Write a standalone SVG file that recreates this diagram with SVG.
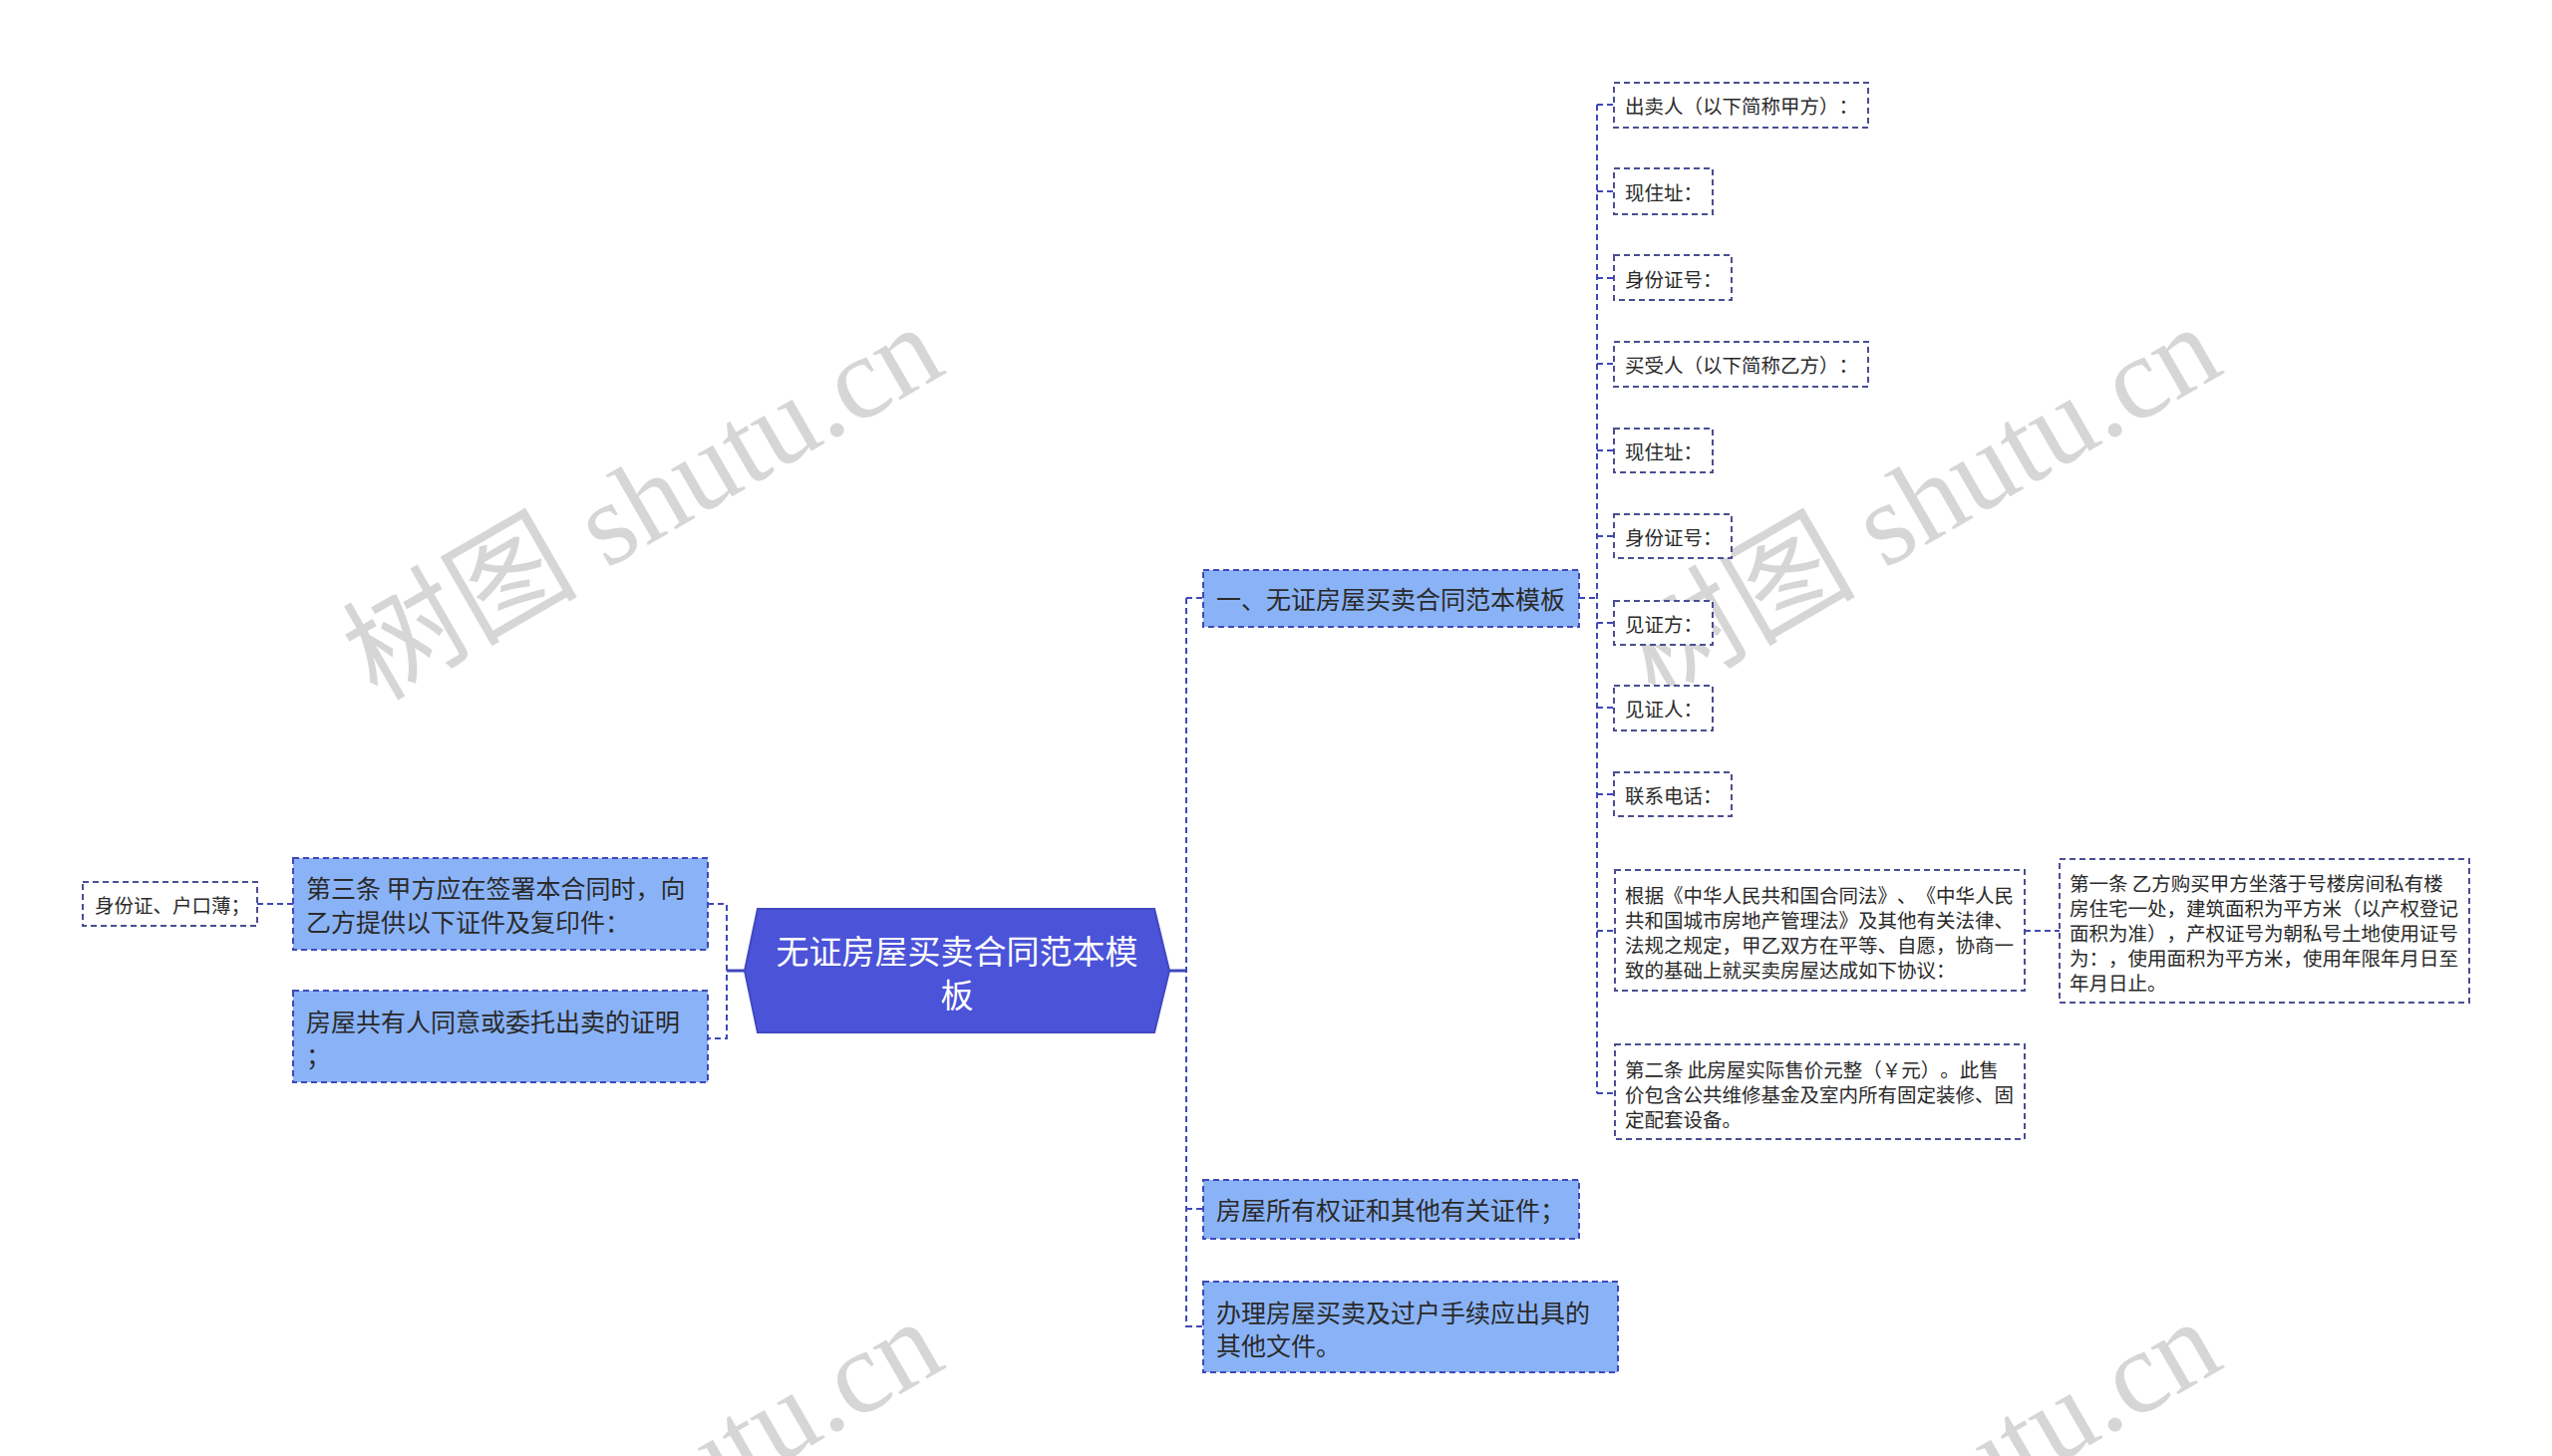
<svg xmlns="http://www.w3.org/2000/svg" width="2560" height="1461" viewBox="0 0 2560 1461">
<style>
.wm{font-family:"Liberation Serif","Noto Sans CJK SC",serif;font-size:118px;fill:#d6d6d6}
.t{font-family:"Noto Sans CJK SC","Noto Sans CJK JP",sans-serif;fill:#2a2a2a;dominant-baseline:central;text-spacing-trim:space-all}
.l1{font-size:25px}
.lf{font-size:19.5px}
.root{font-family:"Noto Sans CJK SC",sans-serif;font-size:33px;fill:#ffffff;dominant-baseline:central;text-anchor:middle}
.b1{fill:#8ab3f7;stroke:#3f48b8;stroke-width:2;stroke-dasharray:6 4}
.bl{fill:#ffffff;stroke:#4a4e92;stroke-width:2;stroke-dasharray:6 4}
.c{fill:none;stroke:#3f48b8;stroke-width:2;stroke-dasharray:6 4}
.cs{fill:none;stroke:#3f48b8;stroke-width:3}
</style>
<rect width="2560" height="1461" fill="#ffffff"/>
<g id="watermarks">
<text class="wm" transform="translate(378,704) rotate(-30)">树图 shutu.cn</text>
<text class="wm" transform="translate(1660,704) rotate(-30)">树图 shutu.cn</text>
<text class="wm" transform="translate(378,1702) rotate(-30)">树图 shutu.cn</text>
<text class="wm" transform="translate(1660,1702) rotate(-30)">树图 shutu.cn</text>
</g>
<g id="connectors">
<path class="cs" d="M1173 974H1190"/>
<path class="c" d="M1190 600V1332"/>
<path class="c" d="M1190 600H1207M1190 1213H1207M1190 1331H1207"/>
<path class="c" d="M1584 600H1602"/>
<path class="c" d="M1602 105V1097"/>
<path class="c" d="M1602 105H1618M1602 192H1618M1602 279H1618M1602 365H1618M1602 452H1618M1602 538H1618M1602 625H1618M1602 710H1618M1602 797H1618M1602 934H1620M1602 1097H1620"/>
<path class="c" d="M2031 934H2066"/>
<path class="cs" d="M747 974H729"/>
<path class="c" d="M710 907H729V1042H710"/>
<path class="c" d="M294 907H258"/>
</g>
<g id="root">
<polygon points="760,912 1158,912 1173,974 1158,1036 760,1036 747,974" fill="#4b53d8" stroke="#4048c0" stroke-width="2"/>
<text class="root" x="960" y="953">无证房屋买卖合同范本模</text>
<text class="root" x="960" y="997">板</text>
</g>
<g id="n-yi">
<rect class="b1" x="1207" y="572" width="377" height="57"/>
<text class="t l1" x="1220" y="600">一、无证房屋买卖合同范本模板</text>
</g>
<g id="n-suoyouquan">
<rect class="b1" x="1207" y="1184" width="377" height="59"/>
<text class="t l1" x="1220" y="1213">房屋所有权证和其他有关证件；</text>
</g>
<g id="n-banli">
<rect class="b1" x="1207" y="1286" width="416" height="91"/>
<text class="t l1" x="1220" y="1316">办理房屋买卖及过户手续应出具的</text>
<text class="t l1" x="1220" y="1349">其他文件。</text>
</g>
<g id="n-disantiao">
<rect class="b1" x="294" y="861" width="416" height="92"/>
<text class="t l1" x="307" y="890">第三条 甲方应在签署本合同时，向</text>
<text class="t l1" x="307" y="924">乙方提供以下证件及复印件：</text>
</g>
<g id="n-gongyou">
<rect class="b1" x="294" y="994" width="416" height="92"/>
<text class="t l1" x="307" y="1024">房屋共有人同意或委托出卖的证明</text>
<text class="t l1" x="307" y="1058">；</text>
</g>
<g id="n-shenfenzheng-hukou">
<rect class="bl" x="83" y="885" width="175" height="44"/>
<text class="t lf" x="95" y="907">身份证、户口薄；</text>
</g>
<g id="n-chumairen">
<rect class="bl" x="1619" y="83" width="255" height="45"/>
<text class="t lf" x="1630" y="105">出卖人（以下简称甲方）：</text>
</g>
<g id="n-zhuzhi1">
<rect class="bl" x="1619" y="169" width="99" height="46"/>
<text class="t lf" x="1630" y="192">现住址：</text>
</g>
<g id="n-sfz1">
<rect class="bl" x="1619" y="256" width="118" height="45"/>
<text class="t lf" x="1630" y="279">身份证号：</text>
</g>
<g id="n-maishouren">
<rect class="bl" x="1619" y="343" width="255" height="45"/>
<text class="t lf" x="1630" y="365">买受人（以下简称乙方）：</text>
</g>
<g id="n-zhuzhi2">
<rect class="bl" x="1619" y="430" width="99" height="44"/>
<text class="t lf" x="1630" y="452">现住址：</text>
</g>
<g id="n-sfz2">
<rect class="bl" x="1619" y="516" width="118" height="44"/>
<text class="t lf" x="1630" y="538">身份证号：</text>
</g>
<g id="n-jianzhengfang">
<rect class="bl" x="1619" y="603" width="99" height="44"/>
<text class="t lf" x="1630" y="625">见证方：</text>
</g>
<g id="n-jianzhengren">
<rect class="bl" x="1619" y="688" width="99" height="45"/>
<text class="t lf" x="1630" y="710">见证人：</text>
</g>
<g id="n-dianhua">
<rect class="bl" x="1619" y="775" width="118" height="44"/>
<text class="t lf" x="1630" y="797">联系电话：</text>
</g>
<g id="n-genju">
<rect class="bl" x="1620" y="873" width="411" height="121"/>
<text class="t lf" x="1630" y="897">根据《中华人民共和国合同法》、《中华人民</text>
<text class="t lf" x="1630" y="922">共和国城市房地产管理法》及其他有关法律、</text>
<text class="t lf" x="1630" y="947">法规之规定，甲乙双方在平等、自愿，协商一</text>
<text class="t lf" x="1630" y="972">致的基础上就买卖房屋达成如下协议：</text>
</g>
<g id="n-diyitiao">
<rect class="bl" x="2066" y="862" width="411" height="144"/>
<text class="t lf" x="2076" y="885">第一条 乙方购买甲方坐落于号楼房间私有楼</text>
<text class="t lf" x="2076" y="910">房住宅一处，建筑面积为平方米（以产权登记</text>
<text class="t lf" x="2076" y="935">面积为准），产权证号为朝私号土地使用证号</text>
<text class="t lf" x="2076" y="960">为：，使用面积为平方米，使用年限年月日至</text>
<text class="t lf" x="2076" y="985">年月日止。</text>
</g>
<g id="n-dieritiao">
<rect class="bl" x="1620" y="1048" width="411" height="95"/>
<text class="t lf" x="1630" y="1072">第二条 此房屋实际售价元整（￥元）。此售</text>
<text class="t lf" x="1630" y="1097">价包含公共维修基金及室内所有固定装修、固</text>
<text class="t lf" x="1630" y="1122">定配套设备。</text>
</g>
</svg>
